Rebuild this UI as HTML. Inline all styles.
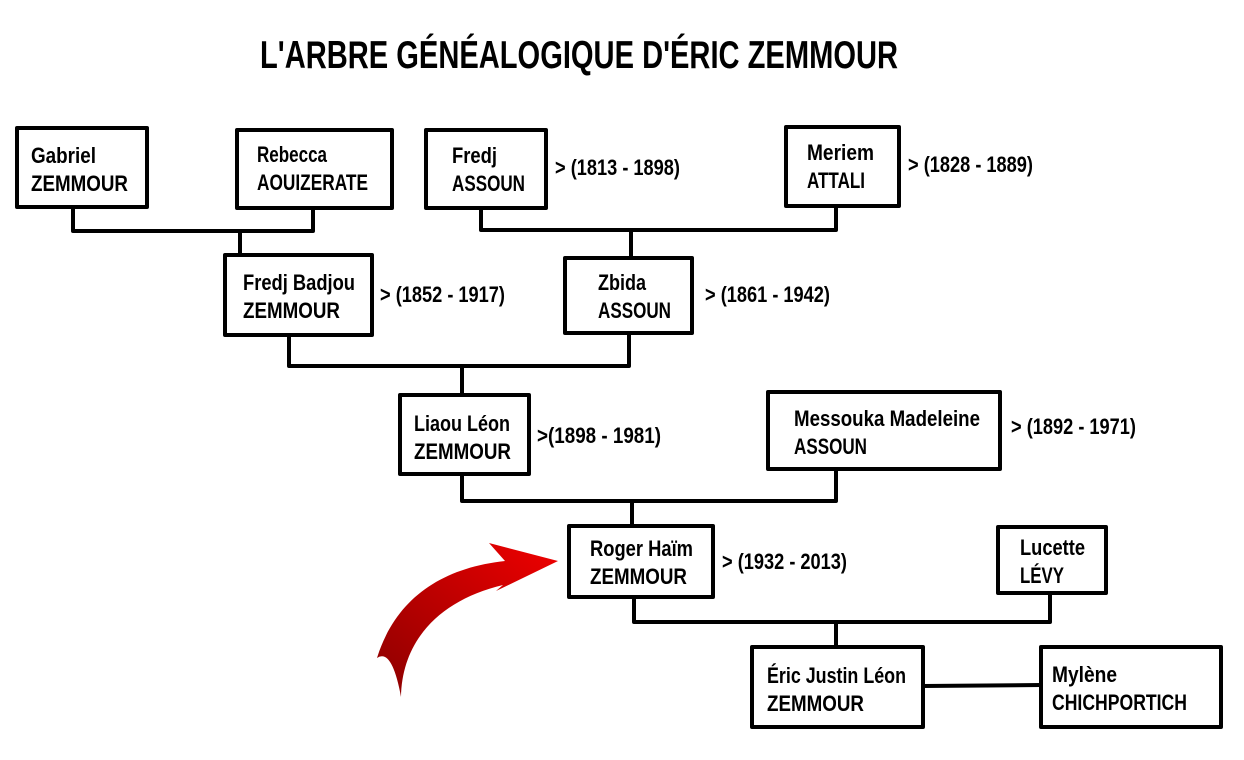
<!DOCTYPE html>
<html><head><meta charset="utf-8"><style>
body{margin:0;background:#fff;}
svg{display:block}
text{font-family:"Liberation Sans",sans-serif;font-weight:bold;fill:#000;}
</style></head><body>
<svg width="1244" height="760" viewBox="0 0 1244 760">
<defs><linearGradient id="g" x1="0" y1="1" x2="1" y2="0">
<stop offset="0" stop-color="#8a0000"/><stop offset="1" stop-color="#f00000"/></linearGradient></defs>
<text x="260" y="68" font-size="39" textLength="638" lengthAdjust="spacingAndGlyphs">L'ARBRE GÉNÉALOGIQUE D'ÉRIC ZEMMOUR</text>
<g fill="none" stroke="#000" stroke-width="4" stroke-linejoin="round">
<rect x="17" y="128" width="130" height="79"/>
<rect x="237" y="130" width="155" height="78"/>
<rect x="426" y="130" width="120" height="78"/>
<rect x="786" y="127" width="113" height="79"/>
<rect x="225" y="255" width="147" height="80"/>
<rect x="565" y="258" width="127" height="75"/>
<rect x="400" y="395" width="129" height="79"/>
<rect x="768" y="392" width="232" height="77"/>
<rect x="569" y="526" width="144" height="71"/>
<rect x="998" y="527" width="108" height="66"/>
<rect x="752" y="647" width="171" height="80"/>
<rect x="1041" y="647" width="180" height="80"/>
<polyline points="73,207 73,231 313,231 313,208"/><line x1="240" y1="231" x2="240" y2="255"/>
<polyline points="481,208 481,230 836,230 836,206"/><line x1="631" y1="230" x2="631" y2="258"/>
<polyline points="289,335 289,366 629,366 629,333"/><line x1="462" y1="366" x2="462" y2="395"/>
<polyline points="462,474 462,501 836,501 836,469"/><line x1="632" y1="501" x2="632" y2="526"/>
<polyline points="634,597 634,622 1050,622 1050,593"/><line x1="836" y1="622" x2="836" y2="647"/>
<line x1="923" y1="686" x2="1041" y2="685"/>
</g>
<g font-size="22">
<text x="31" y="163" textLength="65" lengthAdjust="spacingAndGlyphs">Gabriel</text>
<text x="31" y="191" textLength="97" lengthAdjust="spacingAndGlyphs">ZEMMOUR</text>
<text x="257" y="162" textLength="70" lengthAdjust="spacingAndGlyphs">Rebecca</text>
<text x="257" y="190" textLength="111" lengthAdjust="spacingAndGlyphs">AOUIZERATE</text>
<text x="452" y="163" textLength="45" lengthAdjust="spacingAndGlyphs">Fredj</text>
<text x="452" y="191" textLength="73" lengthAdjust="spacingAndGlyphs">ASSOUN</text>
<text x="555" y="175" textLength="125" lengthAdjust="spacingAndGlyphs">&gt; (1813 - 1898)</text>
<text x="807" y="160" textLength="67" lengthAdjust="spacingAndGlyphs">Meriem</text>
<text x="807" y="188" textLength="58" lengthAdjust="spacingAndGlyphs">ATTALI</text>
<text x="908" y="172" textLength="125" lengthAdjust="spacingAndGlyphs">&gt; (1828 - 1889)</text>
<text x="243" y="290" textLength="112" lengthAdjust="spacingAndGlyphs">Fredj Badjou</text>
<text x="243" y="318" textLength="97" lengthAdjust="spacingAndGlyphs">ZEMMOUR</text>
<text x="380" y="302" textLength="125" lengthAdjust="spacingAndGlyphs">&gt; (1852 - 1917)</text>
<text x="598" y="290" textLength="48" lengthAdjust="spacingAndGlyphs">Zbida</text>
<text x="598" y="318" textLength="73" lengthAdjust="spacingAndGlyphs">ASSOUN</text>
<text x="705" y="302" textLength="125" lengthAdjust="spacingAndGlyphs">&gt; (1861 - 1942)</text>
<text x="414" y="431" textLength="96" lengthAdjust="spacingAndGlyphs">Liaou Léon</text>
<text x="414" y="459" textLength="97" lengthAdjust="spacingAndGlyphs">ZEMMOUR</text>
<text x="537" y="443" textLength="124" lengthAdjust="spacingAndGlyphs">&gt;(1898 - 1981)</text>
<text x="794" y="426" textLength="186" lengthAdjust="spacingAndGlyphs">Messouka Madeleine</text>
<text x="794" y="454" textLength="73" lengthAdjust="spacingAndGlyphs">ASSOUN</text>
<text x="1011" y="434" textLength="125" lengthAdjust="spacingAndGlyphs">&gt; (1892 - 1971)</text>
<text x="590" y="556" textLength="103" lengthAdjust="spacingAndGlyphs">Roger Haïm</text>
<text x="590" y="584" textLength="97" lengthAdjust="spacingAndGlyphs">ZEMMOUR</text>
<text x="722" y="569" textLength="125" lengthAdjust="spacingAndGlyphs">&gt; (1932 - 2013)</text>
<text x="1020" y="555" textLength="65" lengthAdjust="spacingAndGlyphs">Lucette</text>
<text x="1020" y="583" textLength="44" lengthAdjust="spacingAndGlyphs">LÉVY</text>
<text x="767" y="683" textLength="139" lengthAdjust="spacingAndGlyphs">Éric Justin Léon</text>
<text x="767" y="711" textLength="97" lengthAdjust="spacingAndGlyphs">ZEMMOUR</text>
<text x="1052" y="682" textLength="65" lengthAdjust="spacingAndGlyphs">Mylène</text>
<text x="1052" y="710" textLength="135" lengthAdjust="spacingAndGlyphs">CHICHPORTICH</text>
</g>
<path d="M401,697 C402,640 440,600 503,585 L496,591 L558,561 L489,543 L505,561 C440,568 395,600 377,658 Q392,648 401,697 Z" fill="url(#g)"/>
</svg>
</body></html>
